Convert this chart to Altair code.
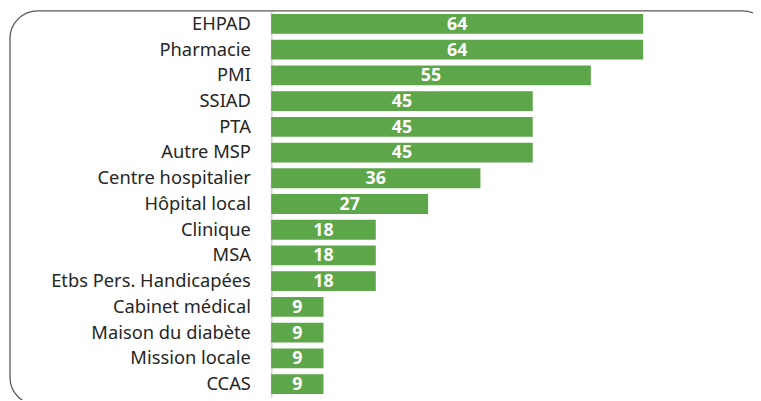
import altair as alt
import pandas as pd

categories = ["EHPAD", "Pharmacie", "PMI", "SSIAD", "PTA", "Autre MSP",
              "Centre hospitalier", "Hôpital local", "Clinique", "MSA",
              "Etbs Pers. Handicapées", "Cabinet médical", "Maison du diabète",
              "Mission locale", "CCAS"]
values = [64, 64, 55, 45, 45, 45, 36, 27, 18, 18, 18, 9, 9, 9, 9]

df = pd.DataFrame({"cat": categories, "val": values})

FONT = "Noto Sans"
GREEN = "#5ea64a"
PADL = 266
W = 376

base = alt.Chart(df)

bars = base.mark_bar(color=GREEN).encode(
    y=alt.Y("cat:N", sort=categories, title=None,
            scale=alt.Scale(paddingInner=0.23, paddingOuter=0.115),
            axis=alt.Axis(ticks=False, labelPadding=21, labelFontSize=18.5,
                          labelFont=FONT, labelColor="#262626",
                          domainColor="#d9d9d9", domainWidth=2, labelLimit=300)),
    x=alt.X("val:Q", axis=None, scale=alt.Scale(domain=[0, 64], nice=False, zero=True)),
)

text = base.transform_calculate(mid="datum.val / 2").mark_text(
    color="white", fontWeight="bold", fontSize=18, font=FONT, baseline="middle", dy=1
).encode(
    y=alt.Y("cat:N", sort=categories),
    x=alt.X("mid:Q"),
    text=alt.Text("val:Q"),
)

border = alt.Chart(alt.Data(values=[{}])).mark_rect(
    fill=None, stroke="#595959", strokeWidth=1.3, cornerRadius=28
).encode(
    x=alt.value(2 - PADL), x2=alt.value(770 - PADL),
    y=alt.value(-0.3), y2=alt.value(398),
)

chart = alt.layer(border, bars, text).properties(
    width=W, height=390,
    padding={"left": PADL, "top": 1, "right": 753 - PADL - W, "bottom": 1},
    autosize=alt.AutoSizeParams(type="none"),
).configure_view(strokeWidth=0)

chart.save("out.html", embed_options={"renderer": "svg", "actions": False})
